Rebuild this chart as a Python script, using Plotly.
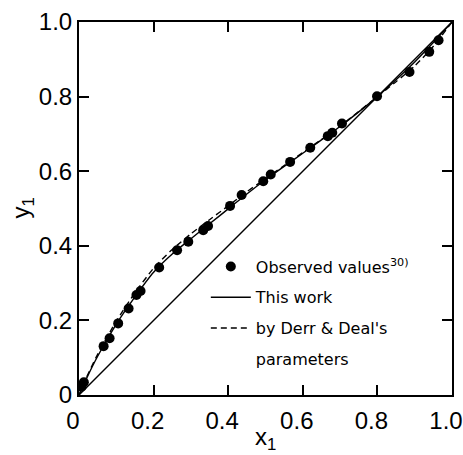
import plotly.graph_objects as go

# Observed VLE data (x1, y1)
obs_x = [0.007, 0.013, 0.066, 0.082, 0.105, 0.133, 0.154, 0.165, 0.215, 0.263, 0.293,
         0.333, 0.346, 0.405, 0.436, 0.494, 0.514, 0.566, 0.620, 0.667, 0.679, 0.705,
         0.799, 0.886, 0.939, 0.964]
obs_y = [0.022, 0.034, 0.131, 0.152, 0.192, 0.232, 0.268, 0.279, 0.342, 0.388, 0.411,
         0.442, 0.453, 0.507, 0.536, 0.573, 0.591, 0.625, 0.663, 0.694, 0.703, 0.728,
         0.801, 0.866, 0.920, 0.951]

# Calculated curves
curve_x = [0, 0.02, 0.05, 0.1, 0.15, 0.2, 0.25, 0.3, 0.35, 0.4, 0.45, 0.5, 0.55, 0.6,
           0.65, 0.7, 0.75, 0.8, 0.85, 0.9, 0.95, 1.0]
this_work_y = [0, 0.044, 0.104, 0.19, 0.263, 0.329, 0.378, 0.419, 0.459, 0.499, 0.539,
               0.577, 0.613, 0.648, 0.684, 0.72, 0.759, 0.80, 0.845, 0.893, 0.945, 1.0]
derr_deal_y = [0, 0.047, 0.109, 0.198, 0.274, 0.34, 0.39, 0.432, 0.47, 0.507, 0.545,
               0.58, 0.615, 0.65, 0.685, 0.721, 0.76, 0.80, 0.84, 0.882, 0.935, 1.0]

diag_x = [0, 1]
diag_y = [0, 1]

tick_vals = [0, 0.2, 0.4, 0.6, 0.8, 1.0]
tick_text = ["0", "0.2", "0.4", "0.6", "0.8", "1.0"]
x_title = "x<sub>1</sub>"
y_title = "y<sub>1</sub>"

FONT = "Liberation Sans, Arial, sans-serif"
LFONT = "DejaVu Sans, sans-serif"

fig = go.Figure()

fig.add_trace(go.Scatter(x=diag_x, y=diag_y, mode="lines",
                         line=dict(color="black", width=1.4), showlegend=False,
                         hoverinfo="skip"))
fig.add_trace(go.Scatter(x=obs_x, y=obs_y, mode="markers",
                         marker=dict(color="black", size=10),
                         name="Observed values<sup>30)</sup>", legendgroup="a"))
fig.add_trace(go.Scatter(x=curve_x, y=this_work_y, mode="lines",
                         line=dict(color="black", width=1.4, shape="spline", smoothing=0.6),
                         name="This work", legendgroup="b"))
fig.add_trace(go.Scatter(x=curve_x, y=derr_deal_y, mode="lines",
                         line=dict(color="black", width=1.4, dash="6px,4px",
                                   shape="spline", smoothing=0.6),
                         name="by Derr & Deal's", legendgroup="c"))
fig.add_trace(go.Scatter(x=[None], y=[None], mode="lines",
                         line=dict(color="rgba(0,0,0,0)", width=1),
                         name="parameters", legendgroup="d"))

axis_common = dict(
    range=[0, 1], tickvals=tick_vals, ticktext=tick_text,
    ticks="inside", ticklen=10, tickwidth=1.5, tickcolor="black",
    showline=True, linecolor="black", linewidth=2, mirror="ticks",
    showgrid=False, zeroline=False, ticklabeloverflow="allow", automargin=False,
    tickfont=dict(family=FONT, size=24, color="black"),
)

fig.update_xaxes(**axis_common, ticklabelstandoff=3, ticklabelshift=-6)
fig.update_yaxes(**axis_common)

fig.add_annotation(text=x_title, xref="paper", yref="paper", x=0.5, y=0,
                   xanchor="center", yanchor="middle", yshift=-43, showarrow=False,
                   font=dict(family=FONT, size=24, color="black"))
fig.add_annotation(text=y_title, xref="paper", yref="paper", x=0, y=0.5,
                   xanchor="center", yanchor="middle", xshift=-57, textangle=-90,
                   showarrow=False, font=dict(family=FONT, size=24, color="black"))

fig.update_layout(
    width=463, height=455,
    margin=dict(l=79, r=11, t=22, b=60),
    paper_bgcolor="white", plot_bgcolor="white",
    showlegend=True,
    legend=dict(x=0.34, y=0.39, xanchor="left", yanchor="top",
                font=dict(family=LFONT, size=16, color="black"),
                bgcolor="rgba(0,0,0,0)", tracegroupgap=7,
                itemwidth=40),
)

fig.write_html("out.html")
